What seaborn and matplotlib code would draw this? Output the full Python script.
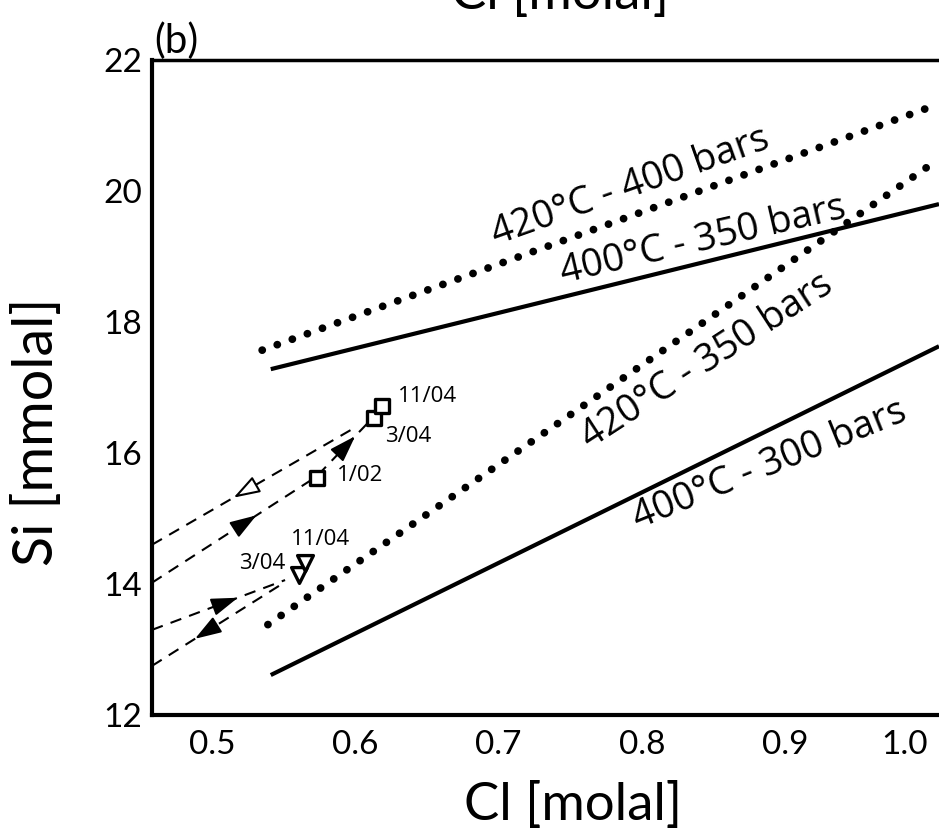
import numpy as np
import pandas as pd
import matplotlib
matplotlib.use("Agg")
import matplotlib.pyplot as plt
from matplotlib.ticker import MultipleLocator
from matplotlib.transforms import ScaledTranslation
import seaborn as sns

# ---------------- data ----------------
# model isochemical lines (Cl [molal], Si [mmolal]) end points
cl_420_400 = [0.527, 1.0]
si_420_400 = [17.57, 21.33]
cl_400_350 = [0.533, 1.0]
si_400_350 = [17.28, 19.80]
cl_420_350 = [0.531, 1.0]
si_420_350 = [13.38, 20.49]
cl_400_300 = [0.533, 1.0]
si_400_300 = [12.61, 17.63]
model_labels = ["420°C - 400 bars", "400°C - 350 bars",
                "420°C - 350 bars", "400°C - 300 bars"]

# vent samples
sq_dates = ["1/02", "3/04", "11/04"]
sq_cl = [0.565, 0.605, 0.611]
sq_si = [15.62, 16.54, 16.72]
tri_dates = ["3/04", "11/04"]
tri_cl = [0.553, 0.557]
tri_si = [14.14, 14.32]

# dashed trajectories
track_a_cl = [0.45, 0.592]
track_a_si = [14.60, 16.39]
track_b_cl = [0.45, 0.565, 0.600]
track_b_si = [14.02, 15.64, 16.44]
track_c_cl = [0.45, 0.543]
track_c_si = [13.30, 14.06]
track_d_cl = [0.45, 0.543]
track_d_si = [12.75, 14.03]

x_ticks = [0.5, 0.6, 0.7, 0.8, 0.9, 1.0]
x_tick_labels = ["0.5", "0.6", "0.7", "0.8", "0.9", "1.0"]
y_ticks = [12, 14, 16, 18, 20, 22]
y_tick_labels = ["12", "14", "16", "18", "20", "22"]

# ---------------- style ----------------
sns.set_style("white")
plt.rcParams["font.family"] = ["Lato", "DejaVu Sans"]
plt.rcParams["text.color"] = "black"
plt.rcParams["axes.labelcolor"] = "black"
plt.rcParams["xtick.color"] = "black"
plt.rcParams["ytick.color"] = "black"
ANN_FONT = ["Open Sans", "DejaVu Sans"]

fig = plt.figure(figsize=(9.39, 8.31), dpi=100)
ax = fig.add_axes([152 / 939, 116 / 831, 787 / 939, 655 / 831])
ax.set_xlim(0.45, 1.0)
ax.set_ylim(12, 22)

dot_style = dict(color="black", lw=5.6, linestyle=(0, (0.01, 2.05)),
                 dash_capstyle="round", errorbar=None)
solid_style = dict(color="black", lw=3.0, solid_capstyle="butt", errorbar=None)
dash_style = dict(color="black", lw=1.5, linestyle=(0, (5.5, 4)), errorbar=None)

sns.lineplot(x=cl_420_400, y=si_420_400, ax=ax, **dot_style)
sns.lineplot(x=cl_400_350, y=si_400_350, ax=ax, **solid_style)
sns.lineplot(x=cl_420_350, y=si_420_350, ax=ax, **dot_style)
sns.lineplot(x=cl_400_300, y=si_400_300, ax=ax, **solid_style)

for xs, ys in [(track_a_cl, track_a_si), (track_b_cl, track_b_si),
               (track_c_cl, track_c_si), (track_d_cl, track_d_si)]:
    sns.lineplot(x=xs, y=ys, ax=ax, **dash_style)


def arrow_on(xs, ys, x_tip, forward=True, open_head=False, dx=0.009):
    y_tip = np.interp(x_tip, xs, ys)
    x_tail = x_tip - dx if forward else x_tip + dx
    y_tail = np.interp(x_tail, xs, ys)
    ax.annotate("", xy=(x_tip, y_tip), xytext=(x_tail, y_tail),
                arrowprops=dict(arrowstyle="-|>,head_length=0.9,head_width=0.3",
                                lw=1.5, fc="white" if open_head else "black",
                                ec="black", shrinkA=0, shrinkB=0,
                                mutation_scale=18), zorder=4)


arrow_on(track_a_cl, track_a_si, 0.507, forward=False, open_head=True)
arrow_on(track_b_cl, track_b_si, 0.523, forward=True)
arrow_on(track_b_cl, track_b_si, 0.592, forward=True, dx=0.006)
arrow_on(track_c_cl, track_c_si, 0.510, forward=True)
arrow_on(track_d_cl, track_d_si, 0.480, forward=False)

sns.scatterplot(x=sq_cl, y=sq_si, ax=ax, marker="s", s=115, color="white",
                edgecolor="black", linewidth=2.4, zorder=6)
sns.scatterplot(x=tri_cl, y=tri_si, ax=ax, marker="v", s=130, color="white",
                edgecolor="black", linewidth=2.4, zorder=6)

# sample labels
lab_kw = dict(fontsize=16, family=ANN_FONT, va="center", zorder=7)
ax.text(0.5793, 15.65, sq_dates[0], ha="left", **lab_kw)
ax.text(0.6128, 16.25, sq_dates[1], ha="left", **lab_kw)
ax.text(0.6219, 16.86, sq_dates[2], ha="left", **lab_kw)
ax.text(0.5429, 14.32, tri_dates[0], ha="right", **lab_kw)
ax.text(0.5681, 14.68, tri_dates[1], ha="center", **lab_kw)

# model labels
mod_kw = dict(fontsize=27.5, family=ANN_FONT, ha="center", va="center",
              rotation_mode="anchor")
ax.text(0.784, 20.07, model_labels[0], rotation=19.5, **mod_kw)
ax.text(0.835, 19.25, model_labels[1], rotation=13, **mod_kw)
ax.text(0.838, 17.41, model_labels[2], rotation=33, **mod_kw)
ax.text(0.882, 15.81, model_labels[3], rotation=22, **mod_kw)

# axes styling
for side in ["left", "bottom", "top"]:
    ax.spines[side].set_visible(True)
    ax.spines[side].set_color("black")
ax.spines["left"].set_linewidth(3.0)
ax.spines["bottom"].set_linewidth(3.0)
ax.spines["top"].set_linewidth(2.5)
ax.spines["right"].set_visible(False)

ax.set_xticks(x_ticks)
ax.set_xticklabels(x_tick_labels)
ax.set_yticks(y_ticks)
ax.set_yticklabels(y_tick_labels)
ax.yaxis.set_minor_locator(MultipleLocator(0.5))
ax.tick_params(axis="both", which="major", direction="in", length=9,
               width=1.3, labelsize=24, color="black", labelcolor="black")
ax.tick_params(axis="x", which="major", pad=11)
ax.tick_params(axis="y", which="major", pad=7)
ax.tick_params(axis="y", which="minor", direction="in", length=5, width=1.3)
ax.tick_params(top=False, right=False)

shift = ScaledTranslation(-11 / 100, 0, fig.dpi_scale_trans)
for lbl in ax.get_xticklabels():
    lbl.set_transform(lbl.get_transform() + shift)
last = ax.get_xticklabels()[-1]
last.set_horizontalalignment("right")

ax.set_xlabel("Cl [molal]", fontsize=38)
ax.xaxis.set_label_coords(0.535, -0.1)
ax.set_ylabel("Si [mmolal]", fontsize=40)
ax.yaxis.set_label_coords(-0.113, 0.432)

ax.text(0.003, 1.0, "(b)", transform=ax.transAxes, ha="left", va="bottom",
        fontsize=29)
fig.text(560 / 939, 1 - 9 / 831, "Cl [molal]", ha="center", va="baseline",
         fontsize=38)

fig.savefig("out.png", dpi=100)
